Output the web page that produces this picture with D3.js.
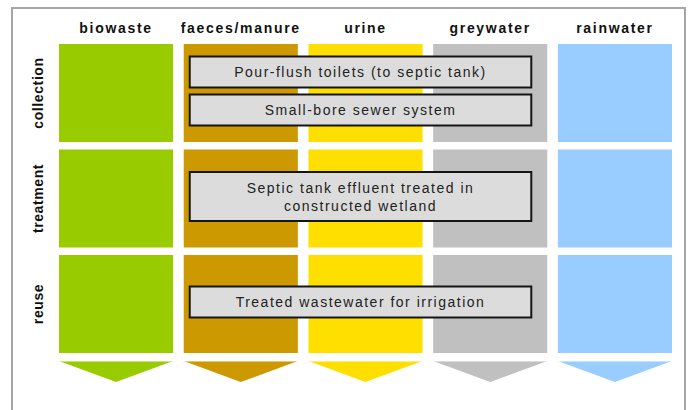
<!DOCTYPE html>
<html>
<head>
<meta charset="utf-8">
<script src="https://cdn.jsdelivr.net/npm/d3@7"></script>
<style>
  body { margin: 0; background: #fff; }
  svg text { font-family: Arial, "Liberation Sans", sans-serif; }
</style>
</head>
<body>
<div id="chart"></div>
<script>
// data
var streams = ["biowaste", "faeces/manure", "urine", "greywater", "rainwater"];
var streamColors = ["#99cc00", "#cc9900", "#ffdf00", "#c0c0c0", "#99ccff"];
var stages = ["collection", "treatment", "reuse"];
// each technology: label lines, stage, first and last stream it covers
var techLabels = [
  ["Pour-flush toilets (to septic tank)"],
  ["Small-bore sewer system"],
  ["Septic tank effluent treated in", "constructed wetland"],
  ["Treated wastewater for irrigation"]
];
var techStages = ["collection", "collection", "treatment", "reuse"];
var techFrom = ["faeces/manure", "faeces/manure", "faeces/manure", "faeces/manure"];
var techTo = ["greywater", "greywater", "greywater", "greywater"];

function draw() {
  var W = 690, H = 410;
  var svg = d3.select("#chart").append("svg")
    .attr("width", W).attr("height", H);

  // frame
  svg.append("rect")
    .attr("x", 12).attr("y", 8)
    .attr("width", 673).attr("height", H)
    .attr("fill", "none")
    .attr("stroke", "#a6a6a6")
    .attr("stroke-width", 2);

  var x = d3.scaleBand().domain(streams).range([59, 672]).paddingInner(0.085);
  var y = d3.scaleBand().domain(stages).range([44, 353]).paddingInner(0.071);
  var color = d3.scaleOrdinal().domain(streams).range(streamColors);

  // column headers
  svg.selectAll("text.head")
    .data(streams)
    .enter()
    .append("text")
    .attr("class", "head")
    .attr("x", function(d) { return x(d) + x.bandwidth() / 2; })
    .attr("y", 33)
    .attr("text-anchor", "middle")
    .attr("font-size", 14)
    .attr("font-weight", "bold")
    .attr("letter-spacing", 1.7)
    .attr("fill", "#111")
    .text(function(d) { return d; });

  // row labels
  svg.selectAll("text.stage")
    .data(stages)
    .enter()
    .append("text")
    .attr("class", "stage")
    .attr("transform", function(d) {
      return "translate(43," + (y(d) + y.bandwidth() / 2) + ") rotate(-90)";
    })
    .attr("text-anchor", "middle")
    .attr("font-size", 14)
    .attr("font-weight", "bold")
    .attr("letter-spacing", 0.6)
    .attr("fill", "#111")
    .text(function(d) { return d; });

  // cells
  var cells = [];
  stages.forEach(function(s) {
    streams.forEach(function(c) { cells.push({stage: s, stream: c}); });
  });
  svg.selectAll("rect.cell")
    .data(cells)
    .enter()
    .append("rect")
    .attr("class", "cell")
    .attr("x", function(d) { return x(d.stream); })
    .attr("y", function(d) { return y(d.stage); })
    .attr("width", x.bandwidth())
    .attr("height", y.bandwidth())
    .attr("fill", function(d) { return color(d.stream); });

  // arrows
  var aTop = 361, aTip = 382;
  svg.selectAll("path.arrow")
    .data(streams)
    .enter()
    .append("path")
    .attr("class", "arrow")
    .attr("d", function(d) {
      var x0 = x(d), x1 = x(d) + x.bandwidth();
      return "M" + x0 + "," + aTop + "L" + x1 + "," + aTop +
        "L" + (x0 + x1) / 2 + "," + aTip + "Z";
    })
    .attr("fill", function(d) { return color(d); });
  svg.selectAll("rect.arrowtop")
    .data(streams)
    .enter()
    .append("rect")
    .attr("x", function(d) { return x(d); })
    .attr("y", aTop)
    .attr("width", x.bandwidth())
    .attr("height", 1)
    .attr("fill", "#fff")
    .attr("opacity", 0.45);

  // technology boxes
  var techs = techLabels.map(function(l, i) {
    return {lines: l, stage: techStages[i], from: techFrom[i], to: techTo[i]};
  });
  var lineH = 18, boxPad = 13, gap = 7;
  stages.forEach(function(s) {
    var list = techs.filter(function(t) { return t.stage == s; });
    var hs = list.map(function(t) { return (t.lines.length - 1) * lineH + boxPad * 2 + 5; });
    var total = d3.sum(hs) + gap * (list.length - 1);
    var yy = y(s) + y.bandwidth() / 2 - 2 - total / 2;
    list.forEach(function(t, i) {
      t.y = yy; t.h = hs[i];
      yy += hs[i] + gap;
    });
  });

  var box = svg.selectAll("g.tech")
    .data(techs)
    .enter()
    .append("g")
    .attr("class", "tech");

  box.append("rect")
    .attr("x", function(d) { return x(d.from) + 6; })
    .attr("y", function(d) { return d.y; })
    .attr("width", function(d) { return x(d.to) + x.bandwidth() - 16 - x(d.from) - 6; })
    .attr("height", function(d) { return d.h; })
    .attr("fill", "#dcdcdc")
    .attr("stroke", "#151515")
    .attr("stroke-width", 2);

  box.each(function(d) {
    var cx = (x(d.from) + 6 + x(d.to) + x.bandwidth() - 16) / 2;
    var first = d.y + d.h / 2 - (d.lines.length - 1) * lineH / 2 + 5;
    d3.select(this).selectAll("text")
      .data(d.lines)
      .enter()
      .append("text")
      .attr("x", cx)
      .attr("y", function(l, i) { return first + i * lineH; })
      .attr("text-anchor", "middle")
      .attr("font-size", 14)
      .attr("letter-spacing", 1.5)
      .attr("fill", "#222")
      .text(function(l) { return l; });
  });
}

draw();
</script>
</body>
</html>
